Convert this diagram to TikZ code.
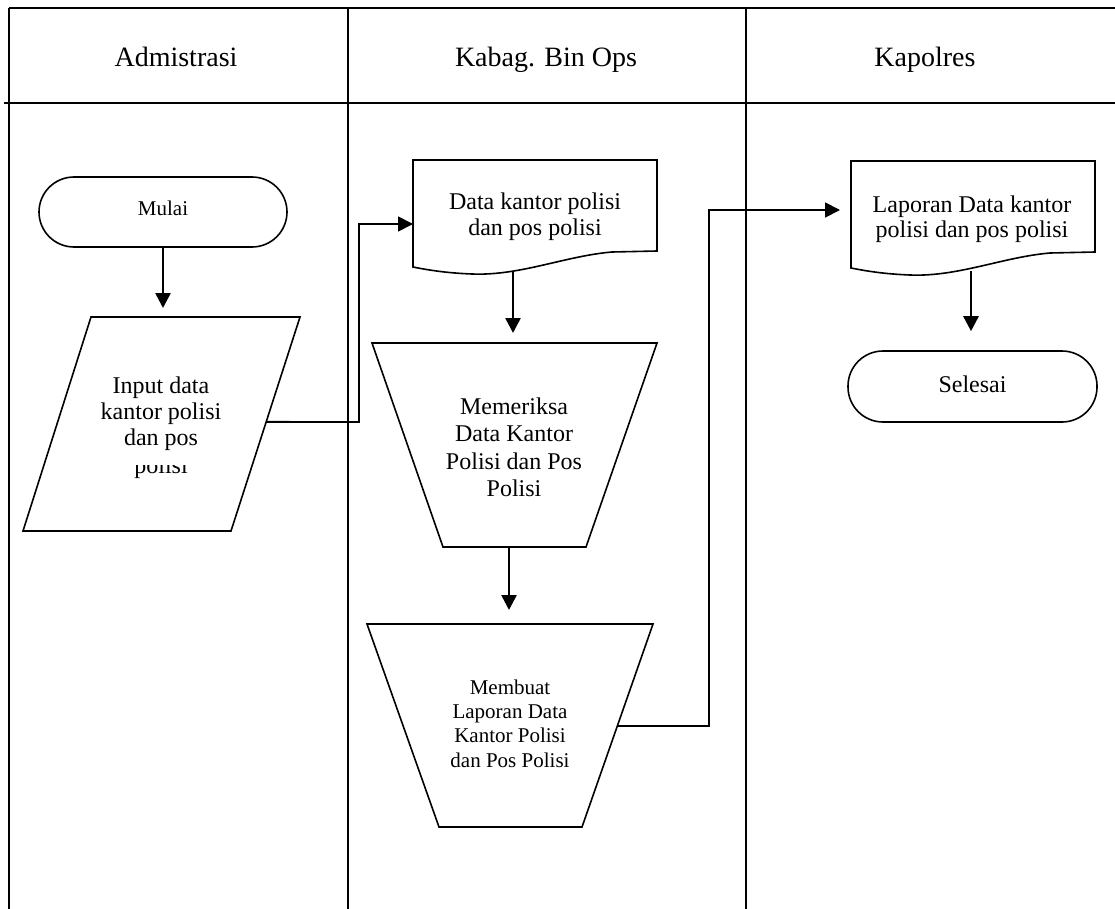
\documentclass[tikz,border=0pt]{standalone}
\usepackage{fontspec}
\setmainfont{Liberation Serif}
\usetikzlibrary{arrows.meta,calc}
\begin{document}
\begin{tikzpicture}[x=1pt,y=-1pt,
  lane/.style={line width=1.8pt},
  outline/.style={line width=1.6pt, line join=miter},
  flow/.style={line width=2.6pt, -{Triangle[length=15pt,width=15pt]}},
  link/.style={line width=1.8pt, -{Triangle[length=15pt,width=15pt]}},
  head/.style={font=\fontsize{28}{32}\selectfont, anchor=base, inner sep=0pt},
  body/.style={font=\fontsize{24}{26}\selectfont, align=center, inner sep=0pt},
  small/.style={font=\fontsize{21}{24.3}\selectfont, align=center, inner sep=0pt},
  term/.style={draw, line width=1.6pt, rounded corners=35pt, inner sep=0pt}
]
\useasboundingbox (0,0) rectangle (1115,909);

% swimlane frame
\draw[lane] (9,8) -- (1115,8);
\draw[lane] (4,103) -- (1115,103);
\draw[lane] (9,8) -- (9,909);
\draw[lane] (348,8) -- (348,909);
\draw[lane] (746,8) -- (746,909);

% lane titles
\node[head] (hAdm) at (176,67) {Admistrasi};
\node[head] (hKab) at (546,67) {Kabag. Bin Ops};
\node[head] (hKap) at (925,67) {Kapolres};

% start terminal
\node[term, small, minimum width=248pt, minimum height=70pt,
      text height=14.3pt, text depth=8.3pt] (mulai) at (163,212) {Mulai};

% input parallelogram
\coordinate (inTL) at (91,317);
\coordinate (inTR) at (300,317);
\coordinate (inBR) at (231,531);
\coordinate (inBL) at (23,531);
\coordinate (inTop) at (163,317);
\draw[outline] (inTL) -- (inTR) -- (inBR) -- (inBL) -- cycle;
\node[body, font=\fontsize{24}{25.8}\selectfont] (input) at (161,414) {Input data\\kantor polisi\\dan pos};
\begin{scope}
  \clip (100,465) rectangle (225,490);
  \node[body, anchor=base] (inputTail) at (161,473) {polisi};
\end{scope}
\coordinate (inOut) at ($(inTR)!0.49!(inBR)$);

% document: data kantor polisi
\draw[outline] (413,160) -- (657,160) -- (657,251) -- (612,252)
  .. controls (565,256) and (520,276) .. (472,274)
  .. controls (446,273) and (428,270) .. (413,267) -- cycle;
\node[body] (doc1) at (535,216.4) {Data kantor polisi\\dan pos polisi};
\coordinate (doc1In) at (413,224);
\coordinate (doc1Out) at (513,272);

% manual operation: memeriksa
\draw[outline] (372,343) -- (657,343) -- (586,547) -- (443,547) -- cycle;
\coordinate (chkTop) at (513,343);
\coordinate (chkOut) at (509,547);
\node[body, font=\fontsize{24}{27.6}\selectfont] (check) at (514,447.3)
  {Memeriksa\\Data Kantor\\Polisi dan Pos\\Polisi};

% manual operation: membuat laporan
\draw[outline] (367,624) -- (653,624) -- (582,827) -- (439,827) -- cycle;
\coordinate (mkTop) at (509,624);
\coordinate (mkOut) at (617.4,726);
\node[small] (make) at (510,723.6)
  {Membuat\\Laporan Data\\Kantor Polisi\\dan Pos Polisi};

% document: laporan
\draw[outline] (851,161) -- (1095,161) -- (1095,252) -- (1050,253)
  .. controls (1003,257) and (958,277) .. (910,275)
  .. controls (884,274) and (866,271) .. (851,268) -- cycle;
\node[body, font=\fontsize{24}{25}\selectfont] (doc2) at (972,218.9)
  {Laporan Data kantor\\polisi dan pos polisi};
\coordinate (doc2In) at (851,210);
\coordinate (doc2Out) at (971,271);

% end terminal
\node[term, body, minimum width=249pt, minimum height=71pt,
      text height=16.4pt, text depth=5.4pt] (selesai) at (972.5,386.5) {Selesai};

% flow
\draw[flow, shorten >=9pt] (mulai.south) -- (inTop);
\draw[link] (inOut) -- (359,422) |- (doc1In);
\draw[flow, shorten >=10pt] (doc1Out) -- (chkTop);
\draw[flow, shorten >=14pt] (chkOut) -- (mkTop);
\draw[link, shorten >=11pt] (mkOut) -- (709,726) |- (doc2In);
\draw[flow, shorten >=19pt] (doc2Out) -- (selesai.north -| doc2Out);
\end{tikzpicture}
\end{document}
